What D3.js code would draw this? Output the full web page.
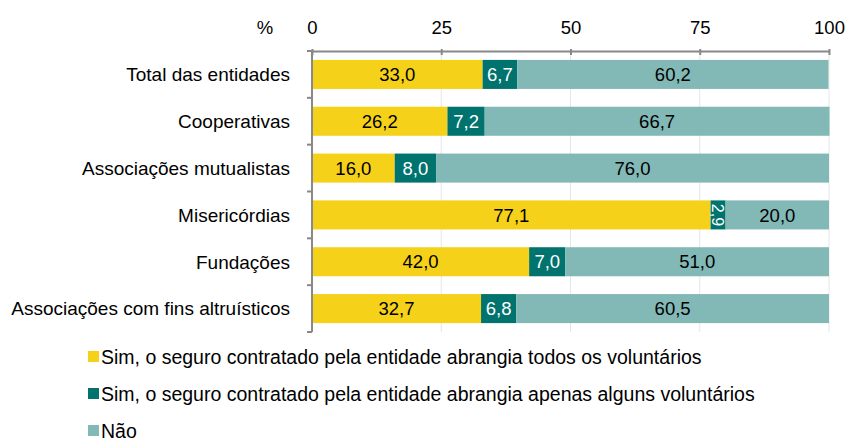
<!DOCTYPE html>
<html>
<head>
<meta charset="utf-8">
<script src="https://cdn.jsdelivr.net/npm/d3@7"></script>
<style>
  body { margin: 0; background: #fff; }
  text { font-family: "Liberation Sans", Arial, sans-serif; }
</style>
</head>
<body>
<div id="chart"></div>
<script>
// data
var categories = ["Total das entidades", "Cooperativas", "Associações mutualistas",
    "Misericórdias", "Fundações", "Associações com fins altruísticos"];
var seriesNames = ["Sim, o seguro contratado pela entidade abrangia todos os voluntários",
    "Sim, o seguro contratado pela entidade abrangia apenas alguns voluntários",
    "Não"];
var simTodos = [33.0, 26.2, 16.0, 77.1, 42.0, 32.7];
var simAlguns = [6.7, 7.2, 8.0, 2.9, 7.0, 6.8];
var nao = [60.2, 66.7, 76.0, 20.0, 51.0, 60.5];
var xTicks = [0, 25, 50, 75, 100];

var colors = ["#F5D11A", "#00736E", "#82B8B6"];
var labelColors = ["#000", "#fff", "#000"];
var fs = "18.5px";

var W = 848, H = 441;
var margin = { top: 51, left: 312, right: 19 };
var plotW = W - margin.left - margin.right;
var plotH = 281;

var svg = d3.select("#chart").append("svg")
    .attr("width", W).attr("height", H);

var g = svg.append("g")
    .attr("transform", "translate(" + margin.left + "," + margin.top + ")");

var x = d3.scaleLinear().domain([0, 100]).range([0, plotW]);
var y = d3.scaleBand().domain(categories).range([0, plotH]).paddingInner(0.38).paddingOuter(0.19);

// rows for stacking
var rows = categories.map(function (c, i) {
    return { cat: c, s0: simTodos[i], s1: simAlguns[i], s2: nao[i] };
});
var stack = d3.stack().keys(["s0", "s1", "s2"]);
var series = stack(rows);

// gridlines
g.selectAll("line.grid")
    .data(xTicks.slice(1))
    .enter().append("line")
    .attr("class", "grid")
    .attr("x1", function (d) { return x(d); })
    .attr("x2", function (d) { return x(d); })
    .attr("y1", 0).attr("y2", plotH)
    .style("stroke", "#e6e6e6")
    .style("stroke-width", 1);

// bars
var layer = g.selectAll("g.layer")
    .data(series)
    .enter().append("g")
    .attr("class", "layer")
    .style("fill", function (d, i) { return colors[i]; });

layer.selectAll("rect")
    .data(function (d) { return d; })
    .enter().append("rect")
    .attr("x", function (d) { return x(d[0]); })
    .attr("y", function (d) { return y(d.data.cat); })
    .attr("width", function (d) { return x(d[1]) - x(d[0]); })
    .attr("height", y.bandwidth());

// value labels
series.forEach(function (s, si) {
    g.selectAll("text.v" + si)
        .data(s)
        .enter().append("text")
        .attr("class", "v" + si)
        .attr("transform", function (d) {
            var cx = (x(d[0]) + x(d[1])) / 2;
            var cy = y(d.data.cat) + y.bandwidth() / 2;
            if (x(d[1]) - x(d[0]) < 20) return "translate(" + cx + "," + cy + ") rotate(90)";
            return "translate(" + cx + "," + cy + ")";
        })
        .attr("text-anchor", "middle")
        .attr("dy", "0.36em")
        .style("font-size", function (d) { return x(d[1]) - x(d[0]) < 20 ? "16px" : fs; })
        .style("fill", labelColors[si])
        .text(function (d) { return d3.format(".1f")(d[1] - d[0]).replace(".", ","); });
});

// top axis
var xAxis = g.append("g")
    .call(d3.axisTop(x).tickValues(xTicks).tickSize(-4).tickPadding(17).tickSizeOuter(0));
xAxis.select(".domain").style("stroke", "#888").style("stroke-width", 2);
xAxis.selectAll(".tick line").attr("y1", -2).attr("y2", 4).style("stroke", "#888").style("stroke-width", 2);
xAxis.selectAll(".tick text")
    .style("font-size", fs).style("fill", "#000")
    .style("font-family", "Liberation Sans, Arial, sans-serif");

svg.append("text")
    .attr("x", 265).attr("y", 34)
    .attr("text-anchor", "middle")
    .style("font-size", fs)
    .text("%");

// left axis with ticks at band boundaries
var yAxisG = g.append("g");
yAxisG.append("line")
    .attr("x1", 0).attr("x2", 0).attr("y1", 0).attr("y2", plotH)
    .style("stroke", "#888").style("stroke-width", 2);
var bounds = d3.range(categories.length + 1).map(function (i) { return i * plotH / categories.length; });
yAxisG.selectAll("line.yt")
    .data(bounds)
    .enter().append("line")
    .attr("class", "yt")
    .attr("x1", -5).attr("x2", 0)
    .attr("y1", function (d) { return d; }).attr("y2", function (d) { return d; })
    .style("stroke", "#888").style("stroke-width", 2);

g.selectAll("text.cat")
    .data(categories)
    .enter().append("text")
    .attr("class", "cat")
    .attr("x", -22)
    .attr("y", function (d) { return y(d) + y.bandwidth() / 2; })
    .attr("dy", "0.36em")
    .attr("text-anchor", "end")
    .style("font-size", "19px")
    .text(function (d) { return d; });

// legend
var legend = svg.selectAll("g.legend")
    .data(seriesNames)
    .enter().append("g")
    .attr("class", "legend")
    .attr("transform", function (d, i) { return "translate(88," + (357 + i * 37) + ")"; });
legend.append("rect")
    .attr("x", 0).attr("y", -6).attr("width", 11).attr("height", 11)
    .style("fill", function (d, i) { return colors[i]; });
legend.append("text")
    .attr("x", 13).attr("y", 0).attr("dy", "0.36em")
    .style("font-size", "19.5px")
    .text(function (d) { return d; });
</script>
</body>
</html>
